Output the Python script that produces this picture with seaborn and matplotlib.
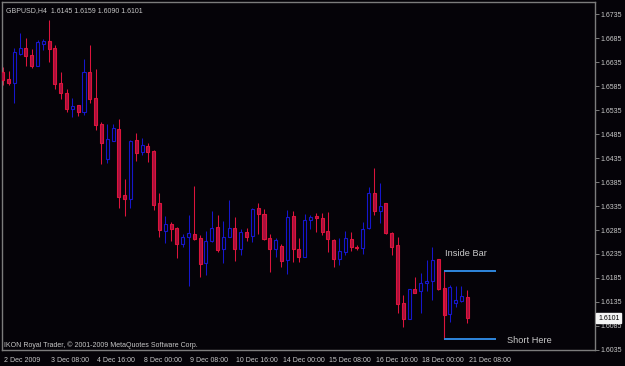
import numpy as np
import pandas as pd
import seaborn as sns
import matplotlib
matplotlib.use("Agg")
import matplotlib.pyplot as plt
import matplotlib.transforms as mtrans

# ---------------- data (GBPUSD, H4) ----------------
opens = [1.66146, 1.66000, 1.65923, 1.66522, 1.66641, 1.66501, 1.66278, 1.66737, 1.66793, 1.66641,
         1.65911, 1.65715, 1.65381, 1.65458, 1.65302, 1.66153, 1.65598, 1.65055, 1.64325, 1.64713,
         1.64957, 1.63581, 1.63491, 1.64722, 1.64484, 1.64609, 1.64498, 1.63408, 1.62836, 1.62976,
         1.62886, 1.62559, 1.62711, 1.62761, 1.62690, 1.62156, 1.62621, 1.62907, 1.62448, 1.62711,
         1.62886, 1.62448, 1.62809, 1.62725, 1.63303, 1.63184, 1.62690, 1.62448, 1.62523, 1.62225,
         1.63143, 1.62454, 1.62294, 1.63059, 1.63143, 1.63095, 1.62836, 1.62642, 1.62239, 1.62398,
         1.62657, 1.62502, 1.62469, 1.62886, 1.63616, 1.63253, 1.63408, 1.62782, 1.62538, 1.61321,
         1.60994, 1.61614, 1.61578, 1.61739, 1.61793, 1.62239, 1.61634, 1.61098, 1.61321, 1.61376,
         1.6145]
highs = [1.66251, 1.66167, 1.66647, 1.66950, 1.66862, 1.66620, 1.66814, 1.66835, 1.67231, 1.66710,
         1.66146, 1.65786, 1.65614, 1.65468, 1.66418, 1.66710, 1.66209, 1.65097, 1.65062, 1.65062,
         1.65156, 1.63908, 1.64728, 1.64868, 1.64776, 1.64659, 1.64519, 1.63616, 1.63143, 1.63024,
         1.62907, 1.62767, 1.63163, 1.63768, 1.62746, 1.62830, 1.63247, 1.63163, 1.63038, 1.63476,
         1.63128, 1.62871, 1.62899, 1.63316, 1.63420, 1.63282, 1.62767, 1.62690, 1.62552, 1.63268,
         1.63247, 1.62677, 1.63178, 1.63163, 1.63195, 1.63199, 1.63220, 1.62663, 1.62677, 1.62830,
         1.62815, 1.62538, 1.63024, 1.63741, 1.64138, 1.63825, 1.63420, 1.62803, 1.62698, 1.61495,
         1.61614, 1.61864, 1.61947, 1.62225, 1.62506, 1.62246, 1.61703, 1.61703, 1.61689, 1.61682,
         1.6159]
lows = [1.65875, 1.65875, 1.65500, 1.66501, 1.66278, 1.66236, 1.66272, 1.66605, 1.66345, 1.65802,
        1.65583, 1.65302, 1.65214, 1.65235, 1.65249, 1.65494, 1.64937, 1.64227, 1.64238, 1.64697,
        1.63316, 1.63143, 1.63303, 1.64290, 1.64415, 1.64275, 1.63268, 1.62711, 1.62579, 1.62627,
        1.62260, 1.62490, 1.61682, 1.62642, 1.61876, 1.61912, 1.62606, 1.62398, 1.62156, 1.62698,
        1.62210, 1.62329, 1.62627, 1.62606, 1.62767, 1.62642, 1.61981, 1.62281, 1.62085, 1.61926,
        1.62177, 1.62177, 1.62281, 1.62871, 1.62809, 1.62746, 1.62398, 1.62072, 1.62120, 1.62329,
        1.62419, 1.62433, 1.62344, 1.62871, 1.63163, 1.63003, 1.62767, 1.62329, 1.61125, 1.60817,
        1.60994, 1.61530, 1.61113, 1.61578, 1.61380, 1.61599, 1.61015, 1.60938, 1.61251, 1.61355,
        1.6090]
closes = [1.65980, 1.65927, 1.66557, 1.66641, 1.66486, 1.66278, 1.66766, 1.66793, 1.66626, 1.65896,
          1.65702, 1.65381, 1.65437, 1.65318, 1.66153, 1.65583, 1.65041, 1.64672, 1.64743, 1.64972,
          1.63545, 1.63491, 1.64707, 1.64467, 1.64624, 1.64484, 1.63382, 1.62851, 1.62976, 1.62878,
          1.62559, 1.62711, 1.62782, 1.62669, 1.62135, 1.62627, 1.62886, 1.62433, 1.62711, 1.62899,
          1.62454, 1.62803, 1.62711, 1.63289, 1.63178, 1.62663, 1.62454, 1.62642, 1.62210, 1.63128,
          1.62454, 1.62294, 1.63059, 1.63128, 1.63107, 1.62815, 1.62657, 1.62239, 1.62412, 1.62677,
          1.62502, 1.62475, 1.62865, 1.63629, 1.63253, 1.63351, 1.62794, 1.62502, 1.61307, 1.60994,
          1.61614, 1.61543, 1.61751, 1.61787, 1.62225, 1.61614, 1.61077, 1.61655, 1.61390, 1.61474,
          1.6101]

time_labels = ["2 Dec 2009", "3 Dec 08:00", "4 Dec 16:00", "8 Dec 00:00", "9 Dec 08:00",
               "10 Dec 16:00", "14 Dec 00:00", "15 Dec 08:00", "16 Dec 16:00", "18 Dec 00:00",
               "21 Dec 08:00"]
price_ticks = [1.6735, 1.6685, 1.6635, 1.6585, 1.6535, 1.6485, 1.6435, 1.6385, 1.6335, 1.6285,
               1.6235, 1.6185, 1.6135, 1.6085, 1.6035]
symbol = "GBPUSD,H4"
inside_high = 1.62002
inside_low = 1.60571
inside_bar_index = 76
line_end_index = 85

df = pd.DataFrame({"open": opens, "high": highs, "low": lows, "close": closes})
df["bar"] = np.arange(len(df))
df["bull"] = df["close"] >= df["open"]

# ---------------- style ----------------
BG = "#050308"
GRID = "#7c7c7c"
TXT = "#c8c8c8"
BULL = "#1616cc"
BEAR = "#dc143c"
BEAR_FILL = "#a80f3c"

sns.set_theme(style="dark", rc={"axes.facecolor": BG, "figure.facecolor": BG,
                                "axes.edgecolor": GRID, "axes.grid": False})
plt.rcParams["font.family"] = ["Liberation Sans", "DejaVu Sans"]

fig = plt.figure(figsize=(6.25, 3.66), dpi=100)
ax = fig.add_axes([2 / 625, 16 / 366, 592.7 / 625, 348 / 366])
ax.set_facecolor(BG)

# wicks
wick_colors = [BULL if b else BEAR for b in df["bull"]]
ax.vlines(df["bar"], df["low"], df["high"], colors=wick_colors, linewidth=0.75, zorder=2)

# bodies
min_h = 0.00012
bodies_bottom = np.minimum(df["open"], df["close"])
bodies_h = np.maximum(np.abs(df["close"] - df["open"]), min_h)
bull = df["bull"].values
ax.bar(df["bar"][bull], bodies_h[bull], bottom=bodies_bottom[bull], width=0.52,
       facecolor=BG, edgecolor=BULL, linewidth=0.8, zorder=3)
ax.bar(df["bar"][~bull], bodies_h[~bull], bottom=bodies_bottom[~bull], width=0.52,
       facecolor=BEAR_FILL, edgecolor=BEAR, linewidth=0.8, zorder=3)

# annotation lines
ax.vlines(inside_bar_index, inside_low, inside_high, colors=BEAR, linewidth=0.8, zorder=4)
ax.hlines([inside_high, inside_low], inside_bar_index, line_end_index, colors="#2f86dc",
          linewidth=1.4, zorder=4)
ax.text(inside_bar_index + 0.25, 1.6235, "Inside Bar", color=TXT, fontsize=6.7,
        va="center", ha="left")
ax.text(line_end_index + 1.9, 1.6054, "Short Here", color=TXT, fontsize=6.7,
        va="center", ha="left")

# axes limits
ax.set_xlim(-0.12, 101.95)
ax.set_ylim(1.60347, 1.67607)

# y axis on right
ax.yaxis.tick_right()
ax.set_yticks(price_ticks)
ax.set_yticklabels([f"{p:.4f}" for p in price_ticks], fontsize=5, color=TXT)
ax.tick_params(axis="y", which="both", direction="out", length=3, width=0.7, color=GRID,
               pad=1.5, left=False, right=True)

# x axis labels every 8 bars, left-aligned
xt = np.arange(len(time_labels)) * 8
ax.set_xticks(xt)
ax.set_xticklabels(time_labels, fontsize=5, color=TXT, ha="left")
ax.tick_params(axis="x", direction="out", length=3, width=0.7, color=GRID, pad=2)
offset = mtrans.ScaledTranslation(1.5 / 100, 0, fig.dpi_scale_trans)
for lab in ax.get_xticklabels():
    lab.set_transform(lab.get_transform() + offset)

for s in ax.spines.values():
    s.set_color(GRID)
    s.set_linewidth(1.0)

# header & footer texts
last = closes[-1]
ax.text(0.006, 0.985, f"{symbol}  {opens[-1]:.4f} {highs[-1]:.4f} {lows[-1]:.4f} {closes[-1]:.4f}",
        transform=ax.transAxes, color=TXT, fontsize=5, va="top", ha="left")
ax.text(0.003, 0.004, "IKON Royal Trader, \u00a9 2001-2009 MetaQuotes Software Corp.",
        transform=ax.transAxes, color=TXT, fontsize=5, va="bottom", ha="left")

# last price label
trans = mtrans.blended_transform_factory(ax.transAxes, ax.transData)
ax.text(1.0, last, f"{last:.4f}", transform=trans + mtrans.ScaledTranslation(3.5 / 100, 0, fig.dpi_scale_trans),
        fontsize=5, color="black", va="center", ha="left",
        bbox=dict(boxstyle="square,pad=0.25", facecolor="#f4f4f4", edgecolor="#f4f4f4"), zorder=10,
        clip_on=False)

fig.savefig("out.png", dpi=100, facecolor=BG)
